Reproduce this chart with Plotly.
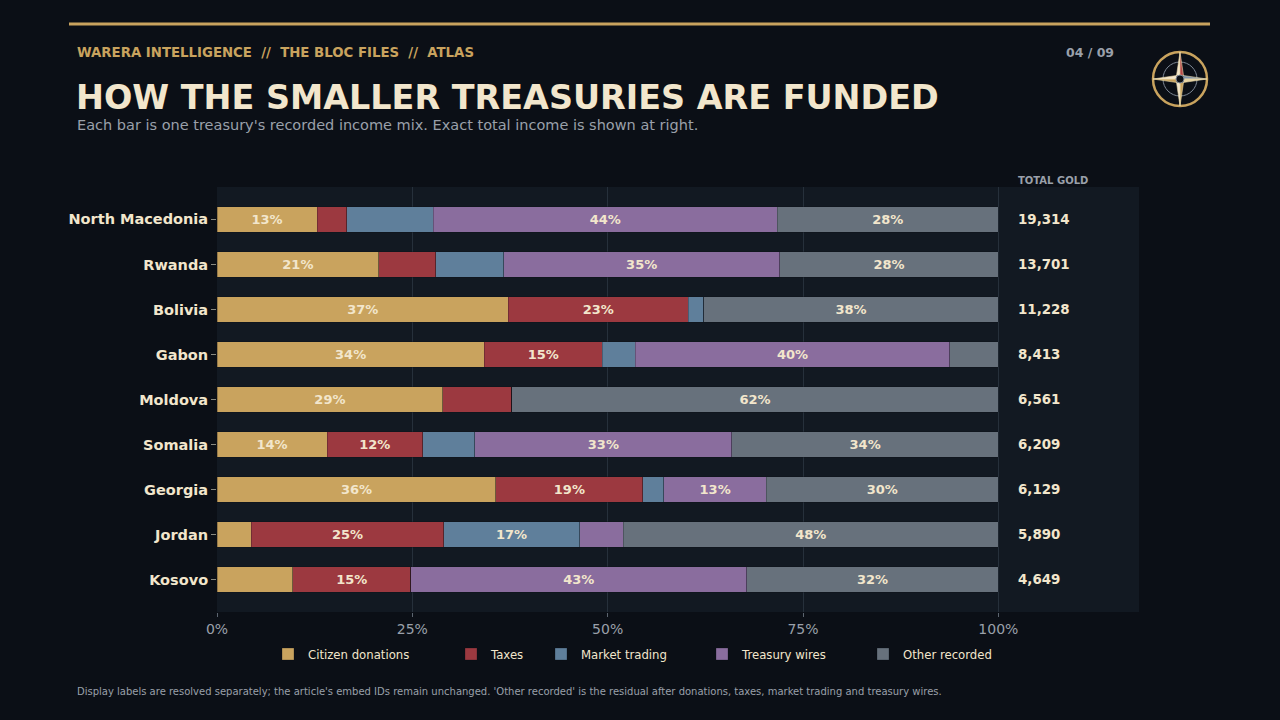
import plotly.graph_objects as go

# data (share of recorded income, %)
countries = ["North Macedonia", "Rwanda", "Bolivia", "Gabon", "Moldova",
             "Somalia", "Georgia", "Jordan", "Kosovo"]
donations = [12.8, 20.7, 37.3, 34.2, 28.9, 14.1, 35.7, 4.4, 9.7]
taxes = [3.8, 7.3, 23.0, 15.1, 8.8, 12.2, 18.8, 24.6, 15.1]
market = [11.1, 8.7, 2.0, 4.2, 0.0, 6.7, 2.7, 17.4, 0.0]
treasury = [44.0, 35.3, 0.0, 40.3, 0.0, 32.9, 13.1, 5.6, 43.0]
other = [28.3, 28.0, 37.7, 6.2, 62.3, 34.1, 29.7, 48.0, 32.2]
total_gold = [19314, 13701, 11228, 8413, 6561, 6209, 6129, 5890, 4649]

x_ticks = [0, 25, 50, 75, 100]
x_tick_labels = ["0%", "25%", "50%", "75%", "100%"]

series = [
    ("Citizen donations", donations, "#c9a35e"),
    ("Taxes", taxes, "#9c3940"),
    ("Market trading", market, "#5f7f9b"),
    ("Treasury wires", treasury, "#8a6d9e"),
    ("Other recorded", other, "#67717c"),
]
# left edge of each legend swatch in the reference (px)
legend_x = [282, 465, 555, 716, 877]

BG = "#0b0f16"
PLOT_BG = "#121922"
CREAM = "#f2e6cc"
GOLD = "#c9a35e"
GREY = "#9aa0aa"
FONT = "DejaVu Sans"

# plot area in pixels (used to place header/footer items)
L, R, T, B = 217, 1139, 187, 612


def px(x):
    return (x - L) / (R - L)


def py(y):
    return (B - y) / (B - T)


fig = go.Figure()
legends = {}
for i, (name, vals, color) in enumerate(series):
    labels = [f"{v:.0f}%" if v >= 12 else "" for v in vals]
    key = "legend" if i == 0 else f"legend{i + 1}"
    fig.add_trace(go.Bar(
        y=countries, x=vals, name=name, orientation="h", legend=key,
        marker=dict(color=color, line=dict(width=0.8, color="rgba(11,15,22,0.35)")),
        text=labels, textposition="inside", insidetextanchor="middle",
        textfont=dict(family=FONT, size=13, color=CREAM, weight="bold"),
        hovertemplate="%{y}: %{x:.1f}%<extra>" + name + "</extra>",
    ))
    legends[key] = dict(orientation="h", x=px(legend_x[i] - 14), xanchor="left",
                        y=py(654), yanchor="middle", bgcolor="rgba(0,0,0,0)",
                        font=dict(family=FONT, size=11.7, color=CREAM))

annotations = []
for c, t in zip(countries, total_gold):
    annotations.append(dict(
        x=102.2, y=c, xref="x", yref="y", text=f"{t:,}", showarrow=False,
        xanchor="left", font=dict(family=FONT, size=13.4, color=CREAM, weight="bold"),
    ))

annotations += [
    dict(x=px(1016), y=py(181), text="TOTAL GOLD", xanchor="left",
         font=dict(size=10, color=GREY, weight="bold")),
    dict(x=px(75), y=py(52), text="WARERA INTELLIGENCE  //  THE BLOC FILES  //  ATLAS",
         xanchor="left", font=dict(size=13.3, color=GOLD, weight="bold")),
    dict(x=px(1116), y=py(52), text="04 / 09", xanchor="right",
         font=dict(size=12.5, color=GREY, weight="bold")),
    dict(x=px(74), y=py(97), text="HOW THE SMALLER TREASURIES ARE FUNDED",
         xanchor="left", font=dict(size=33.4, color=CREAM, weight="bold")),
    dict(x=px(75), y=py(125), text="Each bar is one treasury's recorded income mix. Exact total income is shown at right.",
         xanchor="left", font=dict(size=14.5, color=GREY)),
    dict(x=px(75), y=py(691),
         text="Display labels are resolved separately; the article's embed IDs remain unchanged. "
              "'Other recorded' is the residual after donations, taxes, market trading and treasury wires.",
         xanchor="left", font=dict(size=10, color=GREY)),
]
for a in annotations[len(countries):]:
    a.update(xref="paper", yref="paper", showarrow=False, yanchor="middle")
    a["font"]["family"] = FONT

shapes = [
    # gold rule across the top
    dict(type="line", xref="paper", yref="paper", x0=px(69), x1=px(1210),
         y0=py(24), y1=py(24), line=dict(color=GOLD, width=3)),
]

# compass badge
cx, cy = 1180, 79


def circ(r, color, width, fill="rgba(0,0,0,0)"):
    return dict(type="circle", xref="paper", yref="paper",
                x0=px(cx - r), x1=px(cx + r), y0=py(cy + r), y1=py(cy - r),
                line=dict(color=color, width=width), fillcolor=fill)


def tri(pts, fill):
    path = "M " + " L ".join(f"{px(a)},{py(b)}" for a, b in pts) + " Z"
    return dict(type="path", xref="paper", yref="paper", path=path,
                fillcolor=fill, line=dict(color="#e8d6a8", width=0.6))


shapes.append(circ(27, GOLD, 2.5))
shapes.append(circ(17, "#7d8794", 1))
w = 4
shapes += [
    tri([(cx, cy - 27), (cx - w, cy), (cx, cy)], "#f2e6cc"),
    tri([(cx, cy - 27), (cx + w, cy), (cx, cy)], "#b5484a"),
    tri([(cx + 27, cy), (cx, cy - w), (cx, cy)], "#7f93aa"),
    tri([(cx + 27, cy), (cx, cy + w), (cx, cy)], "#e6d3a3"),
    tri([(cx, cy + 27), (cx + w, cy), (cx, cy)], "#c9a35e"),
    tri([(cx, cy + 27), (cx - w, cy), (cx, cy)], "#f2e6cc"),
    tri([(cx - 27, cy), (cx, cy + w), (cx, cy)], "#c9a35e"),
    tri([(cx - 27, cy), (cx, cy - w), (cx, cy)], "#f2e6cc"),
]
shapes.append(circ(4, "#7d8794", 1, BG))

fig.update_layout(
    width=1280, height=720,
    paper_bgcolor=BG, plot_bgcolor=PLOT_BG,
    barmode="stack", bargap=0.44,
    margin=dict(l=L, r=1280 - R, t=T, b=720 - B),
    font=dict(family=FONT, color=CREAM),
    showlegend=True,
    xaxis=dict(range=[0, 118], tickvals=x_ticks, ticktext=x_tick_labels,
               showgrid=True, gridcolor="#26303b", gridwidth=1, zeroline=False,
               ticks="outside", ticklen=4, tickcolor="#5c6570",
               tickfont=dict(size=14, color=GREY), showline=False),
    yaxis=dict(range=[8.72, -0.72], showgrid=False, zeroline=False,
               ticks="outside", ticklen=5, tickcolor="#8a8a80",
               tickfont=dict(size=14.5, color=CREAM, weight="bold")),
    annotations=annotations,
    shapes=shapes,
    **legends,
)

# drop the browser's default page margin so the figure sits at 0,0
fig.write_html(
    "out.html",
    config={"displayModeBar": False},
    post_script="document.body.style.margin='0';document.body.style.background='" + BG + "';",
)
